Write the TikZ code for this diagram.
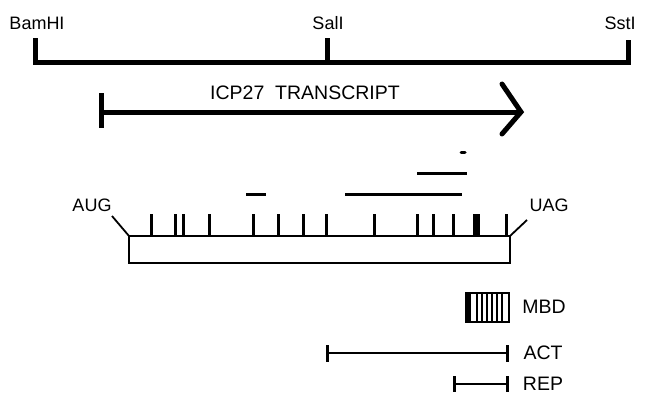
\documentclass[tikz,border=0pt]{standalone}
\usepackage{fontspec}
\setmainfont{Liberation Sans}
\begin{document}
\begin{tikzpicture}[x=1pt,y=-1pt,
  lbl/.style={inner sep=0pt,font=\fontsize{18}{18}\selectfont},
  biglbl/.style={inner sep=0pt,font=\fontsize{19.5}{19.5}\selectfont},
  thickln/.style={line width=5pt},
  tickln/.style={line width=3pt},
  thinln/.style={line width=1.8pt}]
\useasboundingbox (0,0) rectangle (655,394);
% restriction map
\coordinate (b0) at (35,38);
\coordinate (b1) at (35,62);
\coordinate (s0) at (327,38);
\coordinate (s1) at (327,62);
\coordinate (t0) at (628,40);
\coordinate (t1) at (628,62);
\draw[thickln,line join=miter] (b0) -- (b1) -- (t1) -- (t0);
\draw[thickln] (s0) -- (s1);
\node[lbl] (bam) at (37,23) {BamHI};
\node[lbl] (sal) at (328,23) {SalI};
\node[lbl] (sst) at (620,23) {SstI};
% transcript
\coordinate (tr0) at (101,112);
\coordinate (tr1) at (521,112);
\coordinate (ta) at (502,84);
\coordinate (tb) at (502,134);
\draw[thickln] (101,93) -- (101,128);
\draw[thickln] (tr0) -- (tr1);
\draw[thickln,line cap=round,line join=miter] (ta) -- (tr1) -- (tb);
\node[biglbl] (tt) at (305,93) {ICP27\ \ TRANSCRIPT};
% protein box
\coordinate (aug1) at (112,216);
\coordinate (bl) at (129,236);
\coordinate (br) at (510,236);
\coordinate (uag1) at (527,220);
\draw[thinln] (aug1) -- (bl);
\draw[thinln] (br) -- (uag1);
\draw[thinln] (bl) rectangle (510,263);
\node[lbl] (aug) at (92,205) {AUG};
\node[lbl] (uag) at (549,205) {UAG};
\foreach \x in {151,175,183,209,253,278,303,326,374,417,433,453,506}
  \draw[tickln] (\x,214) -- (\x,236);
\fill (473,214) rectangle (480,236);
% bars above
\draw[tickln] (246,194) -- (266,194);
\draw[tickln] (345,194) -- (462,194);
\draw[tickln] (417,173) -- (467,173);
\draw[tickln,line cap=round] (461,152) -- (465,152);
% MBD
\draw[line width=1.6pt] (466,293) rectangle (509,322);
\fill (466,293) rectangle (471,322);
\foreach \x in {477,482,487,492,497,502}
  \draw[line width=1.2pt] (\x,293) -- (\x,322);
\node[biglbl] (mbd) at (544,307) {MBD};
% ACT
\coordinate (a0) at (327,353);
\coordinate (a1) at (507,353);
\draw[line width=2pt] (a0) -- (a1);
\draw[tickln] (327,345) -- (327,362);
\draw[tickln] (507,345) -- (507,362);
\node[biglbl] (act) at (543,353) {ACT};
% REP
\coordinate (r0) at (454,384);
\coordinate (r1) at (507,384);
\draw[line width=2pt] (r0) -- (r1);
\draw[tickln] (454,376) -- (454,392);
\draw[tickln] (507,376) -- (507,392);
\node[biglbl] (rep) at (543,384) {REP};
\end{tikzpicture}
\end{document}
